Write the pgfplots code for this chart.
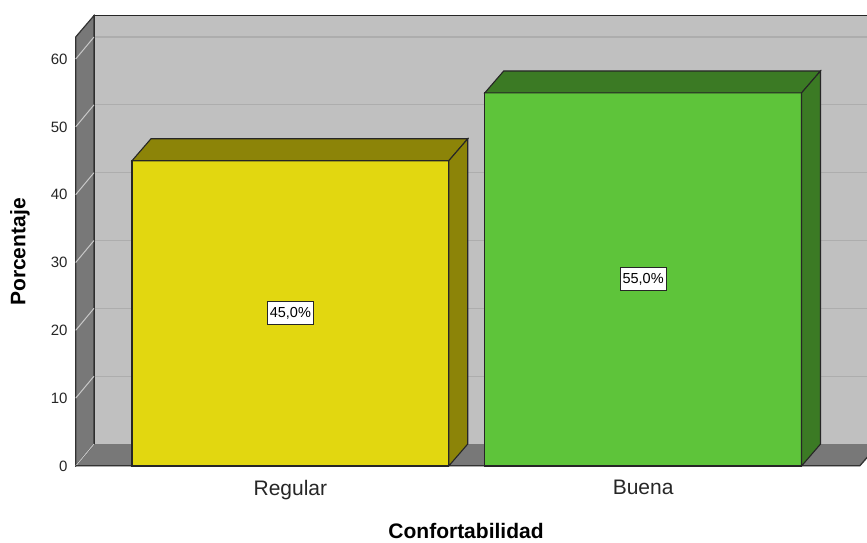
\documentclass[border=0pt]{standalone}
\usepackage{pgfplots}
\pgfplotsset{compat=1.18}
\usepackage{fontspec}
\setmainfont{Liberation Sans}
\definecolor{yfront}{HTML}{E2D710}
\definecolor{ydark}{HTML}{8C8408}
\definecolor{gfront}{HTML}{5EC43A}
\definecolor{gdark}{HTML}{3B7A24}
\definecolor{wall}{HTML}{C0C0C0}
\definecolor{floorc}{HTML}{787878}
\definecolor{gridc}{HTML}{ADADAD}
\definecolor{diagc}{HTML}{C8C8C8}
\begin{document}
\begin{tikzpicture}
\useasboundingbox (-75pt,-76pt) rectangle (792pt,466pt);
\begin{axis}[
  at={(0,0)}, anchor=south west,
  scale only axis, width=792pt, height=451pt,
  xmin=-0.6105, xmax=1.6346, ymin=0, ymax=66.49,
  axis line style={draw=none},
  clip=true,
  xtick={0,1}, xticklabels={Regular,Buena},
  ytick={0,10,20,30,40,50,60},
  major tick length=0pt,
  /pgf/number format/assume math mode=true,
  yticklabel style={font=\fontsize{15}{17}\selectfont, text=black!85, xshift=-4pt},
  xticklabel style={font=\fontsize{21}{25}\selectfont, text=black!85, yshift=-11pt},
  xlabel={Confortabilidad},
  ylabel={Porcentaje},
  xlabel style={font=\bfseries\fontsize{21}{25}\selectfont, at={(axis description cs:0.4937,-0.144)}, anchor=center},
  ylabel style={font=\bfseries\fontsize{21}{25}\selectfont, at={(axis description cs:-0.0694,0.4745)}, anchor=center, rotate=0},
]
% back wall
\addplot[fill=wall, draw=none] coordinates {(-0.5567,3.24) (1.70,3.24) (1.70,66.49) (-0.5567,66.49)} -- cycle;
% back grid lines
\addplot[gridc, line width=1.2pt] coordinates {(-0.5567,13.24) (1.70,13.24)};
\addplot[gridc, line width=1.2pt] coordinates {(-0.5567,23.24) (1.70,23.24)};
\addplot[gridc, line width=1.2pt] coordinates {(-0.5567,33.24) (1.70,33.24)};
\addplot[gridc, line width=1.2pt] coordinates {(-0.5567,43.24) (1.70,43.24)};
\addplot[gridc, line width=1.2pt] coordinates {(-0.5567,53.24) (1.70,53.24)};
\addplot[gridc, line width=1.2pt] coordinates {(-0.5567,63.24) (1.70,63.24)};
% back wall edges
\addplot[black!85, line width=1.3pt] coordinates {(-0.5567,3.24) (-0.5567,66.40) (1.70,66.40)};
% floor
\addplot[fill=floorc, draw=none] coordinates {(-0.6085,0) (1.6145,0) (1.6683,3.24) (-0.5567,3.24)} -- cycle;
% left wall
\addplot[fill=floorc, draw=black!80, line width=1.2pt] coordinates {(-0.6085,0) (-0.5567,3.24) (-0.5567,66.40) (-0.6085,63.25)} -- cycle;
\addplot[diagc, line width=1pt] coordinates {(-0.6085,0) (-0.5567,3.24)};
\addplot[diagc, line width=1pt] coordinates {(-0.6085,10) (-0.5567,13.24)};
\addplot[diagc, line width=1pt] coordinates {(-0.6085,20) (-0.5567,23.24)};
\addplot[diagc, line width=1pt] coordinates {(-0.6085,30) (-0.5567,33.24)};
\addplot[diagc, line width=1pt] coordinates {(-0.6085,40) (-0.5567,43.24)};
\addplot[diagc, line width=1pt] coordinates {(-0.6085,50) (-0.5567,53.24)};
\addplot[diagc, line width=1pt] coordinates {(-0.6085,60) (-0.5567,63.24)};
\addplot[black!80, line width=1.3pt] coordinates {(-0.6085,0.05) (1.6145,0.05) (1.6683,3.24)};
% bar Regular (45)
\addplot[ybar, bar width=0.898, fill=yfront, draw=black!85, line width=1.1pt] coordinates {(0,45)};
\addplot[fill=ydark, draw=black!85, line width=1.1pt] coordinates {(-0.449,45) (0.449,45) (0.5028,48.24) (-0.3952,48.24)} -- cycle;
\addplot[fill=ydark, draw=black!85, line width=1.1pt] coordinates {(0.449,0) (0.5028,3.24) (0.5028,48.24) (0.449,45)} -- cycle;
% bar Buena (55)
\addplot[ybar, bar width=0.898, fill=gfront, draw=black!85, line width=1.1pt] coordinates {(1,55)};
\addplot[fill=gdark, draw=black!85, line width=1.1pt] coordinates {(0.551,55) (1.449,55) (1.5028,58.24) (0.6048,58.24)} -- cycle;
\addplot[fill=gdark, draw=black!85, line width=1.1pt] coordinates {(1.449,0) (1.5028,3.24) (1.5028,58.24) (1.449,55)} -- cycle;
% value labels
\node[draw=black!85, fill=white, line width=1pt, inner xsep=2.5pt, minimum height=23pt, font=\fontsize{14.5}{16}\selectfont] at (axis cs:0,22.5) {45,0\%};
\node[draw=black!85, fill=white, line width=1pt, inner xsep=2.5pt, minimum height=23pt, font=\fontsize{14.5}{16}\selectfont] at (axis cs:1,27.5) {55,0\%};
\end{axis}
\end{tikzpicture}
\end{document}
